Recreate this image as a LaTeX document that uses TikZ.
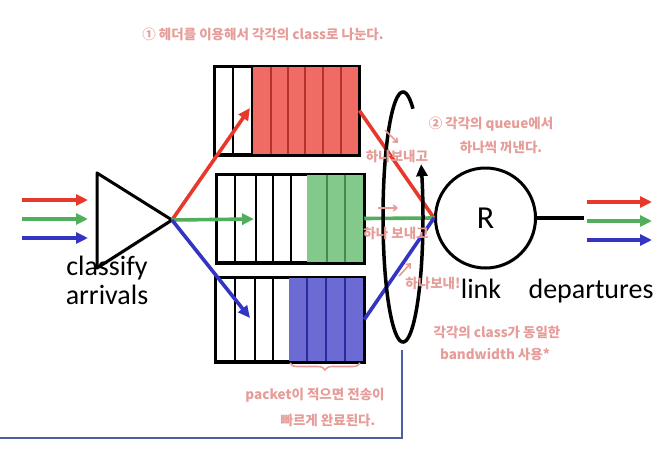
\documentclass[tikz,border=0pt]{standalone}
\usepackage{fontspec}
\setmainfont{Carlito}
\newfontfamily\kr{Noto Sans CJK KR}
\usetikzlibrary{arrows.meta,shadows,decorations.pathreplacing}
\definecolor{cred}{HTML}{E8382B}
\definecolor{cgreen}{HTML}{52AE5C}
\definecolor{cblue}{HTML}{3434C2}
\definecolor{fred}{HTML}{EF6B63}
\definecolor{dred}{HTML}{B3322B}
\definecolor{fgreen}{HTML}{82C98B}
\definecolor{dgreen}{HTML}{3E8E49}
\definecolor{fblue}{HTML}{6B6BD3}
\definecolor{dblue}{HTML}{2A2A9C}
\definecolor{note}{HTML}{E69C98}
\definecolor{slate}{HTML}{4C5F9E}
\begin{document}
\begin{tikzpicture}[x=1pt,y=-1pt,
  flow/.style={line width=3.6pt,-{Triangle[length=12pt,width=11pt]}},
  qbox/.style={draw,line width=2.5pt,fill=white,inner sep=0pt,
    drop shadow={shadow xshift=1.5pt,shadow yshift=-1.5pt,opacity=0.25}},
  cell/.style={line width=2pt},
  lbl/.style={font=\fontsize{28}{29}\selectfont,inner sep=0pt},
  ann/.style={font=\kr\bfseries\fontsize{13.5}{15}\selectfont,text=note,inner sep=0pt},
  annarrow/.style={note,line width=1.6pt,-{Straight Barb[length=3.5pt,width=6pt]}}]
\useasboundingbox (0,0) rectangle (672,450);

% classifier triangle
\draw[line width=3pt,line join=round,fill=white,
  drop shadow={shadow xshift=1.5pt,shadow yshift=-1.5pt,opacity=0.25}]
  (97,173) -- (172,220) -- (97,268) -- cycle;
\coordinate (tip) at (172,220);

% input arrows
\coordinate (ia1) at (22,200); \coordinate (ib1) at (88,200);
\coordinate (ia2) at (22,219); \coordinate (ib2) at (88,219);
\coordinate (ia3) at (22,238); \coordinate (ib3) at (88,238);
\draw[flow,cred] (ia1) -- (ib1);
\draw[flow,cgreen] (ia2) -- (ib2);
\draw[flow,cblue] (ia3) -- (ib3);

% queues
\node[qbox,minimum width=143pt,minimum height=87pt] (q1) at (286.5,110.5) {};
\fill[fred] (252,67) rectangle (359,154);
\foreach \x in {271,288,305,323,341} \draw[cell,dred] (\x,67) -- (\x,154);
\foreach \x in {233,252} \draw[cell] (\x,67) -- (\x,154);
\draw[line width=2.5pt] (q1.north west) rectangle (q1.south east);

\node[qbox,minimum width=146pt,minimum height=87pt] (q2) at (290,218.5) {};
\fill[fgreen] (307,175) rectangle (363,262);
\foreach \x in {327,345} \draw[cell,dgreen] (\x,175) -- (\x,262);
\foreach \x in {235,256,273,291} \draw[cell] (\x,175) -- (\x,262);
\draw[line width=2.5pt] (q2.north west) rectangle (q2.south east);

\node[qbox,minimum width=147pt,minimum height=83pt] (q3) at (289.5,319.5) {};
\fill[fblue] (289,278) rectangle (363,361);
\foreach \x in {307,326,345} \draw[cell,dblue] (\x,278) -- (\x,361);
\foreach \x in {235,255,273} \draw[cell] (\x,278) -- (\x,361);
\draw[line width=2.5pt] (q3.north west) rectangle (q3.south east);

% arrows into queues
\coordinate (e1) at (250,108);
\coordinate (e2) at (254,219);
\coordinate (e3) at (250,318);
\draw[flow,cred] (tip) -- (e1);
\draw[flow,cgreen] (tip) -- (e2);
\draw[flow,cblue] (tip) -- (e3);

% router
\node[circle,draw,line width=3pt,fill=white,minimum size=100pt,inner sep=0pt,
  font=\fontsize{32}{34}\selectfont,
  drop shadow={shadow xshift=1.5pt,shadow yshift=-1.5pt,opacity=0.25}] (R) at (485.5,218) {R};

% lines from queues to router
\draw[line width=3.6pt,cred] (q1.east) -- (R.west);
\draw[line width=3.6pt,cgreen] (q2.east) -- (R.west);
\draw[line width=3.6pt,cblue] (q3.east) -- (R.west);

% output link
\coordinate (lend) at (584,218);
\draw[line width=3.6pt] (R.east) -- (lend);
\coordinate (oa1) at (587,202); \coordinate (ob1) at (652,202);
\coordinate (oa2) at (587,221); \coordinate (ob2) at (652,221);
\coordinate (oa3) at (587,240); \coordinate (ob3) at (652,240);
\draw[flow,cred] (oa1) -- (ob1);
\draw[flow,cgreen] (oa2) -- (ob2);
\draw[flow,cblue] (oa3) -- (ob3);

% round-robin ellipse
\draw[line width=3.5pt,-{Triangle[length=12pt,width=11pt]}]
  plot[domain=60:385,samples=120,smooth] ({403+20*cos(\x)},{217-125*sin(\x)});

% labels
\node[lbl,anchor=base,align=center] (cls) at (107,304) {classify\\arrivals};
\node[lbl,anchor=base] (lnk) at (481,298) {link};
\node[lbl,anchor=base] (dep) at (591,298) {departures};

% slate bracket line
\coordinate (s1) at (402,350); \coordinate (s2) at (402,438); \coordinate (s3) at (0,438);
\draw[slate,line width=1.5pt] (s1) -- (s2) -- (s3);

% annotations
\node[ann] (n1) at (263,34) {① 헤더를 이용해서 각각의 class로 나눈다.};
\node[ann] (n2) at (491,124) {② 각각의 queue에서};
\node[ann] (n3) at (501,147) {하나씩 꺼낸다.};
\node[ann] (n4) at (397,156) {하나보내고};
\node[ann] (n5) at (396,233) {하나 보내고};
\node[ann] (n6) at (433,283) {하나보내!};
\node[ann] (n7) at (497,332) {각각의 class가 동일한};
\node[ann] (n8) at (495,354) {bandwidth 사용*};
\node[ann] (n9) at (315,395) {packet이 적으면 전송이};
\node[ann] (n10) at (328,420) {빠르게 완료된다.};
\coordinate (p1) at (385,130); \coordinate (p2) at (398,143);
\coordinate (p3) at (378,208); \coordinate (p4) at (398,208);
\coordinate (p5) at (399,276); \coordinate (p6) at (411,263);
\draw[annarrow] (p1) -- (p2);
\draw[annarrow] (p3) -- (p4);
\draw[annarrow] (p5) -- (p6);
\coordinate (b1) at (290,363); \coordinate (b2) at (360,363);
\draw[note,line width=1.6pt,decorate,decoration={brace,amplitude=7pt,mirror}] (b1) -- (b2);
\end{tikzpicture}
\end{document}
